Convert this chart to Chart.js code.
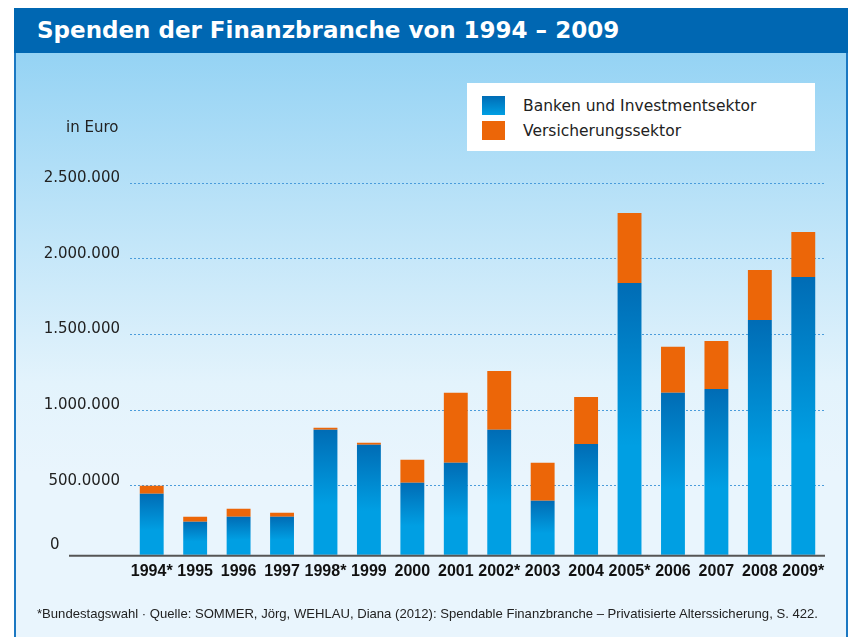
<!DOCTYPE html>
<html lang="de">
<head>
<meta charset="utf-8">
<title>Spenden der Finanzbranche von 1994 – 2009</title>
<script src="https://cdn.jsdelivr.net/npm/chart.js@4.4.1/dist/chart.umd.min.js"></script>
<style>
  html, body { margin: 0; padding: 0; background: #fff; }
  body { width: 858px; height: 637px; position: relative; overflow: hidden; font-family: "DejaVu Sans", sans-serif; }
  #panel {
    position: absolute; left: 14px; top: 53px; width: 830px; height: 590px;
    border-left: 2px solid #1b78c2; border-right: 2px solid #1b78c2;
    background: linear-gradient(to bottom, #95d3f4 0px, #c3e6f9 190px, #e3f3fc 330px, #e9f5fd 420px, #e9f5fd 100%);
  }
  #title {
    position: absolute; left: 14px; top: 8px; width: 834px; height: 45px;
    background: #0067b2; color: #fff; font-weight: bold; font-size: 23px;
    line-height: 45px; padding-left: 23px; box-sizing: border-box;
  }
  #chartWrap { position: absolute; left: 0; top: 0; width: 858px; height: 637px; }
  #unit { position: absolute; left: 66px; top: 118px; font-size: 15px; color: #222; }
  #legend {
    position: absolute; left: 467px; top: 83px; width: 348px; height: 68px;
    background: #fff; box-sizing: border-box; padding: 10px 0 0 15px;
  }
  .item { height: 25px; display: flex; align-items: center; font-size: 15.5px; color: #222; }
  .swatch { width: 23px; height: 19px; margin-right: 18px; }
  #note {
    position: absolute; left: 37px; top: 606px; font-family: "Liberation Sans", sans-serif;
    font-size: 13.1px; color: #222; white-space: nowrap;
  }
</style>
</head>
<body>
<div id="panel"></div>
<div id="title">Spenden der Finanzbranche von 1994 – 2009</div>
<div id="chartWrap"><canvas id="spendenChart"></canvas></div>
<div id="unit">in Euro</div>
<div id="legend"></div>
<div id="note">*Bundestagswahl · Quelle: SOMMER, Jörg, WEHLAU, Diana (2012): Spendable Finanzbranche – Privatisierte Alterssicherung, S. 422.</div>

<script>
// data (Euro)
const years = ['1994*', '1995', '1996', '1997', '1998*', '1999', '2000', '2001',
               '2002*', '2003', '2004', '2005*', '2006', '2007', '2008', '2009*'];
const banken = [447000, 262000, 295000, 295000, 870000, 771000, 520000, 652000,
                870000, 401000, 777000, 1840000, 1114000, 1140000, 1596000, 1880000];
const versicherung = [53000, 33000, 53000, 27000, 13000, 13000, 152000, 462000,
                      389000, 251000, 310000, 462000, 304000, 317000, 330000, 297000];
const seriesNames = ['Banken und Investmentsektor', 'Versicherungssektor'];
const yTickValues = [0, 500000, 1000000, 1500000, 2000000, 2500000];
const yTickLabels = ['0', '500.0000', '1.000.000', '1.500.000', '2.000.000', '2.500.000'];

// the drawn baseline sits a little above the zero of the grid in the original
const yMin = 44500;
const yMax = 2500000;

const blueTop = '#006cb5';
const blueBottom = '#009fe3';
const orange = '#ec6608';

function blueFill(context) {
  const chart = context.chart;
  const area = chart.chartArea;
  if (!area) return blueBottom;
  const top = chart.scales.y.getPixelForValue(context.raw);
  const g = chart.ctx.createLinearGradient(0, top, 0, top + (area.bottom - top) * 0.6);
  g.addColorStop(0, blueTop);
  g.addColorStop(1, blueBottom);
  return g;
}

// y labels and baseline like the original
const axisDecor = {
  id: 'axisDecor',
  afterDraw(chart) {
    const { ctx, chartArea, scales } = chart;
    ctx.save();
    ctx.strokeStyle = '#555';
    ctx.lineWidth = 2;
    ctx.beginPath();
    ctx.moveTo(69, chartArea.bottom + 1);
    ctx.lineTo(chartArea.right, chartArea.bottom + 1);
    ctx.stroke();

    ctx.fillStyle = '#222';
    ctx.font = '15px "DejaVu Sans"';
    ctx.textBaseline = 'middle';
    yTickValues.forEach((v, i) => {
      if (v === 0) {
        ctx.textAlign = 'left';
        ctx.fillText(yTickLabels[i], 50, chartArea.bottom - 10);
      } else {
        ctx.textAlign = 'right';
        ctx.fillText(yTickLabels[i], 120, scales.y.getPixelForValue(v) - 5);
      }
    });
    ctx.restore();
  }
};

// legend box
const legendEl = document.getElementById('legend');
[`linear-gradient(${blueTop}, ${blueBottom})`, orange].forEach((bg, i) => {
  const row = document.createElement('div');
  row.className = 'item';
  row.innerHTML = `<span class="swatch" style="background:${bg}"></span><span>${seriesNames[i]}</span>`;
  legendEl.appendChild(row);
});

new Chart(document.getElementById('spendenChart'), {
  type: 'bar',
  data: {
    labels: years,
    datasets: [
      { label: seriesNames[0], data: banken, backgroundColor: blueFill, barPercentage: 0.55, categoryPercentage: 1 },
      { label: seriesNames[1], data: versicherung, backgroundColor: orange, barPercentage: 0.55, categoryPercentage: 1 }
    ]
  },
  options: {
    responsive: true,
    maintainAspectRatio: false,
    animation: false,
    layout: { padding: { left: 130, right: 33, top: 183, bottom: 49 } },
    plugins: { legend: { display: false }, tooltip: { enabled: false } },
    scales: {
      x: {
        stacked: true,
        grid: { display: false, drawTicks: false },
        border: { display: false },
        ticks: {
          color: '#111', padding: 7, autoSkip: false, maxRotation: 0, minRotation: 0,
          font: { family: 'Liberation Sans', size: 16, weight: 'bold' }
        }
      },
      y: {
        stacked: true,
        min: yMin,
        max: yMax,
        afterBuildTicks: scale => { scale.ticks = yTickValues.filter(v => v > 0).map(v => ({ value: v })); },
        grid: { color: '#4a9cdb', lineWidth: 1, drawTicks: false },
        border: { display: false, dash: [2, 2] },
        ticks: { display: false }
      }
    }
  },
  plugins: [axisDecor]
});
</script>
</body>
</html>
